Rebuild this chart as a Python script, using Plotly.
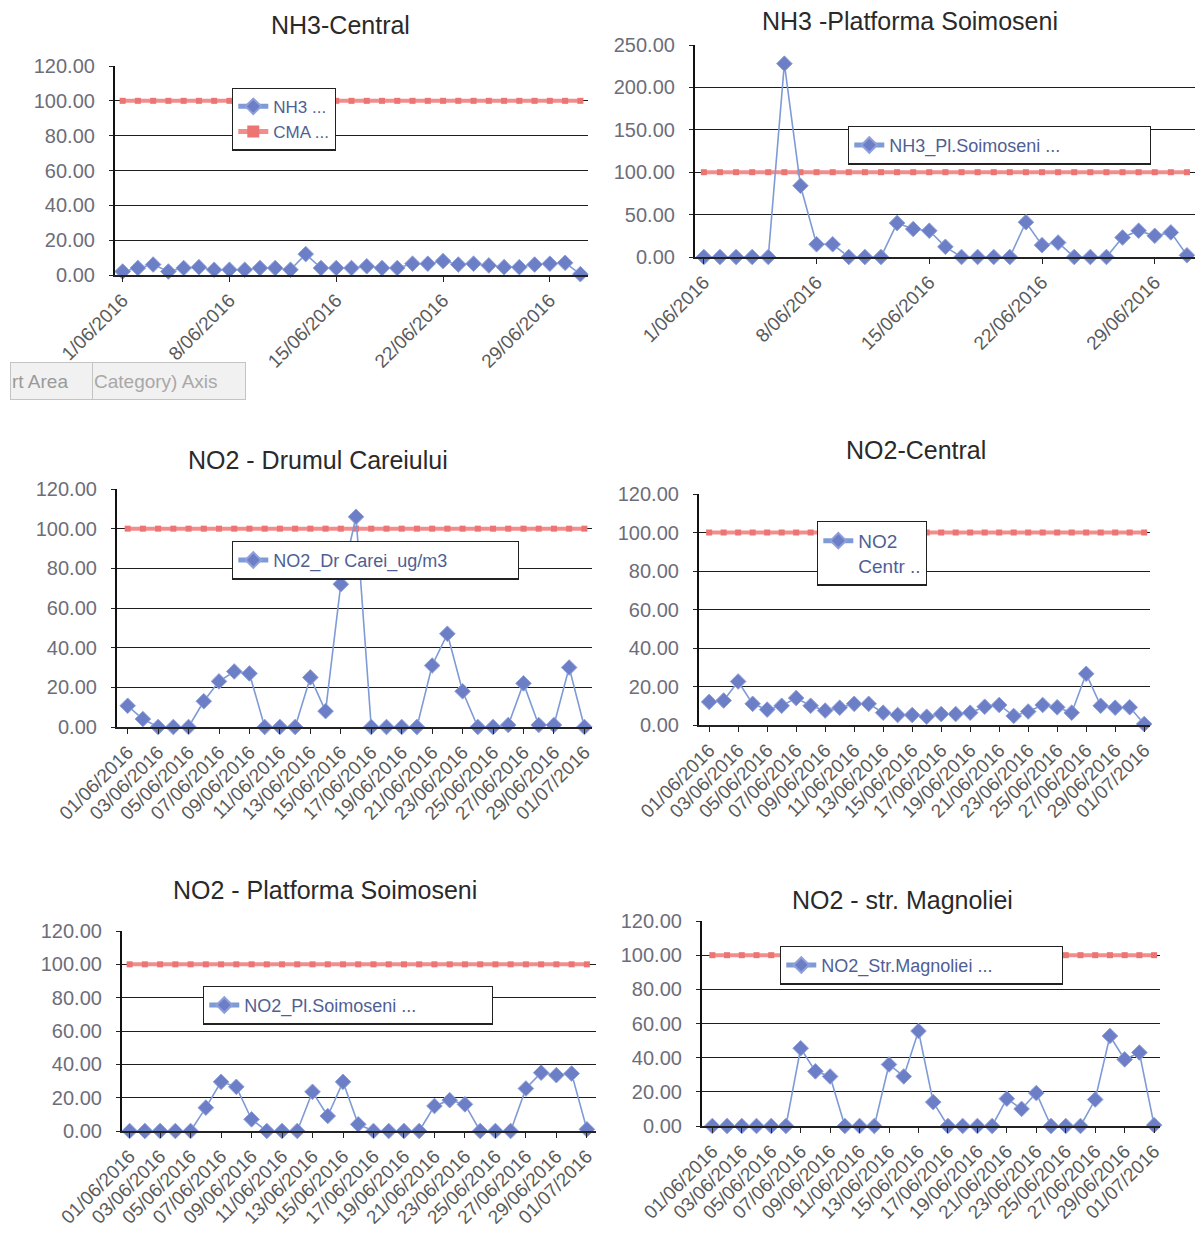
import plotly.graph_objects as go

# ---------------- data ----------------
dates = ["01/06/2016", "02/06/2016", "03/06/2016", "04/06/2016", "05/06/2016",
         "06/06/2016", "07/06/2016", "08/06/2016", "09/06/2016", "10/06/2016",
         "11/06/2016", "12/06/2016", "13/06/2016", "14/06/2016", "15/06/2016",
         "16/06/2016", "17/06/2016", "18/06/2016", "19/06/2016", "20/06/2016",
         "21/06/2016", "22/06/2016", "23/06/2016", "24/06/2016", "25/06/2016",
         "26/06/2016", "27/06/2016", "28/06/2016", "29/06/2016", "30/06/2016",
         "01/07/2016"]

nh3_tickvals = ["01/06/2016", "08/06/2016", "15/06/2016", "22/06/2016", "29/06/2016"]
nh3_ticktext = ["1/06/2016", "8/06/2016", "15/06/2016", "22/06/2016", "29/06/2016"]
no2_tickvals = ["01/06/2016", "03/06/2016", "05/06/2016", "07/06/2016", "09/06/2016",
                "11/06/2016", "13/06/2016", "15/06/2016", "17/06/2016", "19/06/2016",
                "21/06/2016", "23/06/2016", "25/06/2016", "27/06/2016", "29/06/2016",
                "01/07/2016"]

cma = [100, 100, 100, 100, 100, 100, 100, 100, 100, 100, 100, 100, 100, 100, 100, 100,
       100, 100, 100, 100, 100, 100, 100, 100, 100, 100, 100, 100, 100, 100, 100]

nh3_central = [2, 4, 6, 2, 4, 4.5, 3, 3, 3, 4, 4, 3, 12, 4, 4, 4, 5, 4, 4, 6.5, 6.5,
               8, 6, 6.5, 5.5, 4.5, 4.5, 6, 6.5, 7, 0.5]
nh3_soimoseni = [0, 0, 0, 0, 0, 228, 84, 15, 15, 0, 0, 0, 40, 33, 31, 12, 0, 0, 0, 0,
                 41, 14, 17, 0, 0, 0, 23, 31, 25, 29, 2]
no2_dr_carei = [10.7, 4, 0, 0, 0, 13, 23, 28, 27, 0, 0, 0, 25, 8, 72, 106, 0, 0, 0, 0,
                31, 47, 18, 0, 0, 1, 22, 1, 1, 30, 0]
no2_central = [12, 12.7, 22.6, 11, 8, 10, 14, 10, 7.5, 9, 11, 11, 6.4, 5.2, 5.2, 4.3,
               5.7, 5.7, 6.4, 9.5, 10.4, 4.7, 7, 10.4, 9.2, 6.4, 26.6, 10, 9, 9.2, 0.5]
no2_pl_soimoseni = [0, 0, 0, 0, 0, 14, 29.5, 26.5, 7, 0, 0, 0, 23.5, 9, 29.5, 4, 0, 0,
                    0, 0, 15, 18.5, 16, 0, 0, 0, 25.5, 35, 33.5, 34.5, 1]
no2_magnoliei = [0, 0, 0, 0, 0, 0, 45.5, 32, 29, 0, 0, 0, 36, 29, 55.6, 14, 0, 0, 0, 0,
                 16, 10, 19.3, 0, 0, 0, 15.5, 52.7, 39, 43, 0.5]

# ---------------- layout helpers ----------------
W, H = 1195, 1239
FONT = "Liberation Sans, Arial, sans-serif"
BLUE_LINE = "#7F9BD6"
BLUE_MARK = "#6C7FC6"
RED = "#F28D8B"
TICK_COL = "#6d6d7a"
LEG_COL = "#4f5f95"


def dx(a, b):
    return [a / W, b / W]


def dy(top, bot):
    return [1 - bot / H, 1 - top / H]


charts = [
    dict(title="NH3-Central", tpos=(340, 25), series=nh3_central, name="NH3 ...",
         xd=(115, 588), yd=(66, 275), xr=[-0.5, 30.5], ymax=120, dt=20,
         tv=nh3_tickvals, tt=nh3_ticktext, leg=(232, 119), lf=17, cma_leg="CMA ...", ew=None),
    dict(title="NH3 -Platforma Soimoseni", tpos=(910, 21), series=nh3_soimoseni,
         name="NH3_Pl.Soimoseni ...", xd=(695, 1195), yd=(45, 257), xr=[-0.55, 30.5],
         ymax=250, dt=50, tv=nh3_tickvals, tt=nh3_ticktext, leg=(848, 145), lf=18,
         cma_leg=None, ew=255),
    dict(title="NO2 - Drumul Careiului", tpos=(318, 460), series=no2_dr_carei,
         name="NO2_Dr Carei_ug/m3", xd=(117, 592), yd=(489, 727), xr=[-0.7, 30.5],
         ymax=120, dt=20, tv=no2_tickvals, tt=no2_tickvals, leg=(232, 560), lf=18,
         cma_leg=None, ew=239),
    dict(title="NO2-Central", tpos=(916, 450), series=no2_central,
         name="NO2<br>Centr ..", xd=(699, 1150), yd=(494, 725), xr=[-0.7, 30.4],
         ymax=120, dt=20, tv=no2_tickvals, tt=no2_tickvals, leg=(817, 553), lf=19,
         cma_leg=None, ew=None),
    dict(title="NO2 - Platforma Soimoseni", tpos=(325, 890), series=no2_pl_soimoseni,
         name="NO2_Pl.Soimoseni ...", xd=(122, 596), yd=(931, 1131), xr=[-0.5, 30.6],
         ymax=120, dt=20, tv=no2_tickvals, tt=no2_tickvals, leg=(203, 1005), lf=18,
         cma_leg=None, ew=242),
    dict(title="NO2 - str. Magnoliei", tpos=(902, 900), series=no2_magnoliei,
         name="NO2_Str.Magnoliei ...", xd=(702, 1160), yd=(921, 1126), xr=[-0.7, 30.4],
         ymax=120, dt=20, tv=no2_tickvals, tt=no2_tickvals, leg=(780, 965), lf=18,
         cma_leg=None, ew=235),
]

fig = go.Figure()
layout = dict(
    width=W, height=H, autosize=False,
    margin=dict(l=0, r=0, t=0, b=0, autoexpand=False),
    paper_bgcolor="white", plot_bgcolor="white",
    font=dict(family=FONT, color="#333"),
    annotations=[],
)

for i, c in enumerate(charts):
    n = "" if i == 0 else str(i + 1)
    xa, ya = "x" + n, "y" + n
    leg = "legend" + n
    # CMA limit line
    fig.add_trace(go.Scatter(
        x=dates, y=cma, xaxis=xa, yaxis=ya, mode="lines+markers",
        name=c["cma_leg"] or "CMA", showlegend=c["cma_leg"] is not None, legend=leg,
        line=dict(color=RED, width=4),
        marker=dict(symbol="square", size=6, color="#EC7472"),
        cliponaxis=False, hoverinfo="skip"))
    # measured series
    fig.add_trace(go.Scatter(
        x=dates, y=c["series"], xaxis=xa, yaxis=ya, mode="lines+markers",
        name=c["name"], legend=leg,
        line=dict(color=BLUE_LINE, width=1.6),
        marker=dict(symbol="diamond", size=12, color=BLUE_MARK,
                    line=dict(color="#8FA0DA", width=1)),
        cliponaxis=False))

    layout["xaxis" + n] = dict(
        domain=dx(*c["xd"]), anchor=ya, type="category", range=c["xr"],
        categoryorder="array", categoryarray=dates, automargin=False,
        tickmode="array", tickvals=c["tv"], ticktext=c["tt"], tickangle=-45,
        tickfont=dict(size=19, color="#5a5a5a", family=FONT),
        showgrid=False, showline=True, linecolor="#222", linewidth=1.5,
        ticks="outside", ticklen=5, tickcolor="#222", zeroline=False, fixedrange=True)
    layout["yaxis" + n] = dict(
        domain=dy(*c["yd"]), anchor=xa, range=[0, c["ymax"]], dtick=c["dt"],
        automargin=False,
        tickformat=".2f", tickfont=dict(size=20, color=TICK_COL, family=FONT),
        showgrid=True, gridcolor="#1e1e1e", gridwidth=1.2,
        showline=True, linecolor="#111", linewidth=2.2,
        ticks="outside", ticklen=4, tickcolor="#222", ticklabelstandoff=10,
        zeroline=False, fixedrange=True)
    lx, ly = c["leg"]
    legd = dict(
        x=lx / W, y=1 - ly / H, xanchor="left", yanchor="middle",
        bgcolor="white", bordercolor="#222", borderwidth=1.3,
        font=dict(size=c["lf"], color=LEG_COL, family=FONT),
        traceorder="reversed" if i == 0 else "normal",
        valign="top", tracegroupgap=0, itemsizing="constant")
    if c["ew"]:
        legd.update(orientation="h", entrywidth=c["ew"], entrywidthmode="pixels")
    layout[leg] = legd
    tx, ty = c["tpos"]
    layout["annotations"].append(dict(
        text=c["title"], x=tx / W, y=1 - ty / H, xref="paper", yref="paper",
        xanchor="center", yanchor="middle", showarrow=False,
        font=dict(size=25, color="#2a2a2a", family=FONT)))

# Excel tooltip remnants visible in the scan
layout["annotations"].append(dict(
    text="rt Area", x=10 / W, y=1 - 362 / H, xref="paper", yref="paper",
    xanchor="left", yanchor="top", showarrow=False, width=80, height=34,
    bgcolor="#f1f1f1", bordercolor="#c4c4c4", borderwidth=1, align="left",
    font=dict(size=19, color="#9a9a9a", family=FONT)))
layout["annotations"].append(dict(
    text="Category) Axis", x=92 / W, y=1 - 362 / H, xref="paper", yref="paper",
    xanchor="left", yanchor="top", showarrow=False, width=150, height=34,
    bgcolor="#f1f1f1", bordercolor="#c4c4c4", borderwidth=1, align="left",
    font=dict(size=19, color="#a8a8a8", family=FONT)))

fig.update_layout(**layout)
fig.write_html("out.html", config={"displayModeBar": False},
               post_script="document.body.style.margin='0';document.body.style.overflow='hidden';")
